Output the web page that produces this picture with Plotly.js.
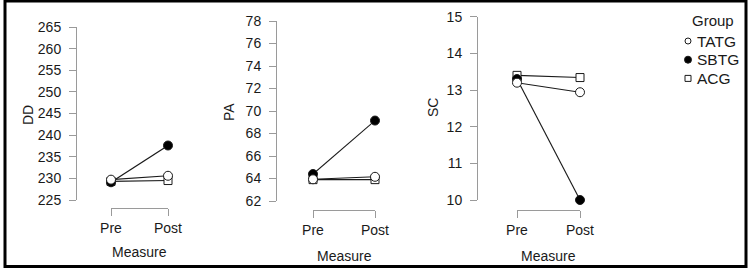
<!DOCTYPE html>
<html>
<head>
<meta charset="utf-8">
<script src="https://cdn.plot.ly/plotly-3.0.1.min.js"></script>
<style>html,body{margin:0;padding:0;background:#fff;}#chart{width:750px;height:270px;}</style>
</head>
<body>
<div id="chart"></div>
<script>
// ---- data ----
const measures = ['Pre', 'Post'];
const groups = ['TATG', 'SBTG', 'ACG'];
const DD_TATG = [229.7, 230.6];
const DD_SBTG = [229.1, 237.6];
const DD_ACG  = [229.3, 229.5];
const PA_TATG = [63.93, 64.15];
const PA_SBTG = [64.4, 69.15];
const PA_ACG  = [63.9, 63.9];
const SC_TATG = [13.2, 12.94];
const SC_SBTG = [13.3, 10.0];
const SC_ACG  = [13.4, 13.34];
const ddTicks = [225, 230, 235, 240, 245, 250, 255, 260, 265];
const paTicks = [62, 64, 66, 68, 70, 72, 74, 76, 78];
const scTicks = [10, 11, 12, 13, 14, 15];

// ---- styles ----
const W = 750, H = 270;
const FONT = 'Liberation Sans, Arial, sans-serif';
const ink = '#1a1a1a';
const axisGray = '#9a9a9a';
const styles = {
  TATG: {symbol: 'circle', color: '#ffffff'},
  SBTG: {symbol: 'circle', color: '#000000'},
  ACG:  {symbol: 'square', color: '#ffffff'}
};
const drawOrder = ['ACG', 'SBTG', 'TATG'];
const panelData = [
  {TATG: DD_TATG, SBTG: DD_SBTG, ACG: DD_ACG},
  {TATG: PA_TATG, SBTG: PA_SBTG, ACG: PA_ACG},
  {TATG: SC_TATG, SBTG: SC_SBTG, ACG: SC_ACG}
];
const px = v => v / W;
const py = v => 1 - v / H;

const panels = [
  {x0: 111, x1: 168, xpos: 208, yTop: 27, yBot: 200, ypos: 76, range: [225, 265], ticks: ddTicks, title: 'DD', tx: 28, ty: 115, mx: 139, my: 252},
  {x0: 313, x1: 375, xpos: 210, yTop: 21, yBot: 201, ypos: 276, range: [62, 78], ticks: paTicks, title: 'PA', tx: 229, ty: 112, mx: 344, my: 256},
  {x0: 517, x1: 580, xpos: 210, yTop: 16.7, yBot: 200, ypos: 477, range: [10, 15], ticks: scTicks, title: 'SC', tx: 433, ty: 108, mx: 548, my: 256}
];

const traces = [];
const layout = {
  width: W, height: H,
  margin: {l: 0, r: 0, t: 0, b: 0},
  paper_bgcolor: '#fff', plot_bgcolor: 'rgba(0,0,0,0)',
  font: {family: FONT, size: 14, color: ink},
  showlegend: false,
  annotations: [],
  shapes: [{
    type: 'rect', xref: 'paper', yref: 'paper',
    x0: px(5), x1: px(746), y0: py(266.5), y1: py(1),
    line: {color: '#000', width: 3}
  }]
};

panels.forEach((p, i) => {
  const n = i === 0 ? '' : String(i + 1);
  const xa = 'x' + n, ya = 'y' + n;
  drawOrder.forEach(g => {
    traces.push({
      type: 'scatter', mode: 'lines+markers',
      x: measures, y: panelData[i][g], xaxis: xa, yaxis: ya,
      name: g, cliponaxis: false,
      line: {color: ink, width: 1.1},
      marker: {symbol: styles[g].symbol, color: styles[g].color, size: g === 'ACG' ? 8 : 9,
               line: {color: ink, width: 1}}
    });
  });
  layout['xaxis' + n] = {
    type: 'category', domain: [px(p.x0), px(p.x1)], range: [0, 1],
    anchor: 'free', position: py(p.xpos),
    showline: true, linecolor: axisGray, linewidth: 1,
    ticks: 'outside', ticklen: 7, tickcolor: axisGray, tickwidth: 1,
    showgrid: false, zeroline: false, fixedrange: true,
    tickfont: {size: 14}
  };
  layout['yaxis' + n] = {
    domain: [py(p.yBot), py(p.yTop)], range: p.range,
    anchor: 'free', position: px(p.ypos),
    tickmode: 'array', tickvals: p.ticks,
    showline: true, linecolor: axisGray, linewidth: 1,
    ticks: 'outside', ticklen: 7, tickcolor: axisGray, tickwidth: 1,
    ticklabelstandoff: 5,
    showgrid: false, zeroline: false, fixedrange: true,
    tickfont: {size: 14}
  };
  layout.annotations.push({
    text: p.title, xref: 'paper', yref: 'paper', x: px(p.tx), y: py(p.ty),
    showarrow: false, textangle: -90, font: {size: 14}, xanchor: 'center', yanchor: 'middle'
  });
  layout.annotations.push({
    text: 'Measure', xref: 'paper', yref: 'paper', x: px(p.mx), y: py(p.my),
    showarrow: false, font: {size: 14}, xanchor: 'center', yanchor: 'middle'
  });
});

// ---- legend (key drawn as layout decoration) ----
const legX = 688, legTextX = 695, legY0 = 41, legStep = 18.7;
layout.annotations.push({
  text: 'Group', xref: 'paper', yref: 'paper', x: px(712.5), y: py(20),
  showarrow: false, font: {size: 15}, xanchor: 'center', yanchor: 'middle'
});
groups.forEach((g, k) => {
  const cy = legY0 + k * legStep;
  const r = g === 'SBTG' ? 3.5 : 3;
  layout.shapes.push({
    type: g === 'ACG' ? 'rect' : 'circle', xref: 'paper', yref: 'paper',
    x0: px(legX - r), x1: px(legX + r), y0: py(cy + r), y1: py(cy - r),
    fillcolor: styles[g].color, line: {color: ink, width: 1}
  });
  layout.annotations.push({
    text: g, xref: 'paper', yref: 'paper', x: px(legTextX), y: py(cy),
    showarrow: false, font: {size: 15.5}, xanchor: 'left', yanchor: 'middle'
  });
});

Plotly.newPlot('chart', traces, layout, {displayModeBar: false, staticPlot: true});
</script>
</body>
</html>
